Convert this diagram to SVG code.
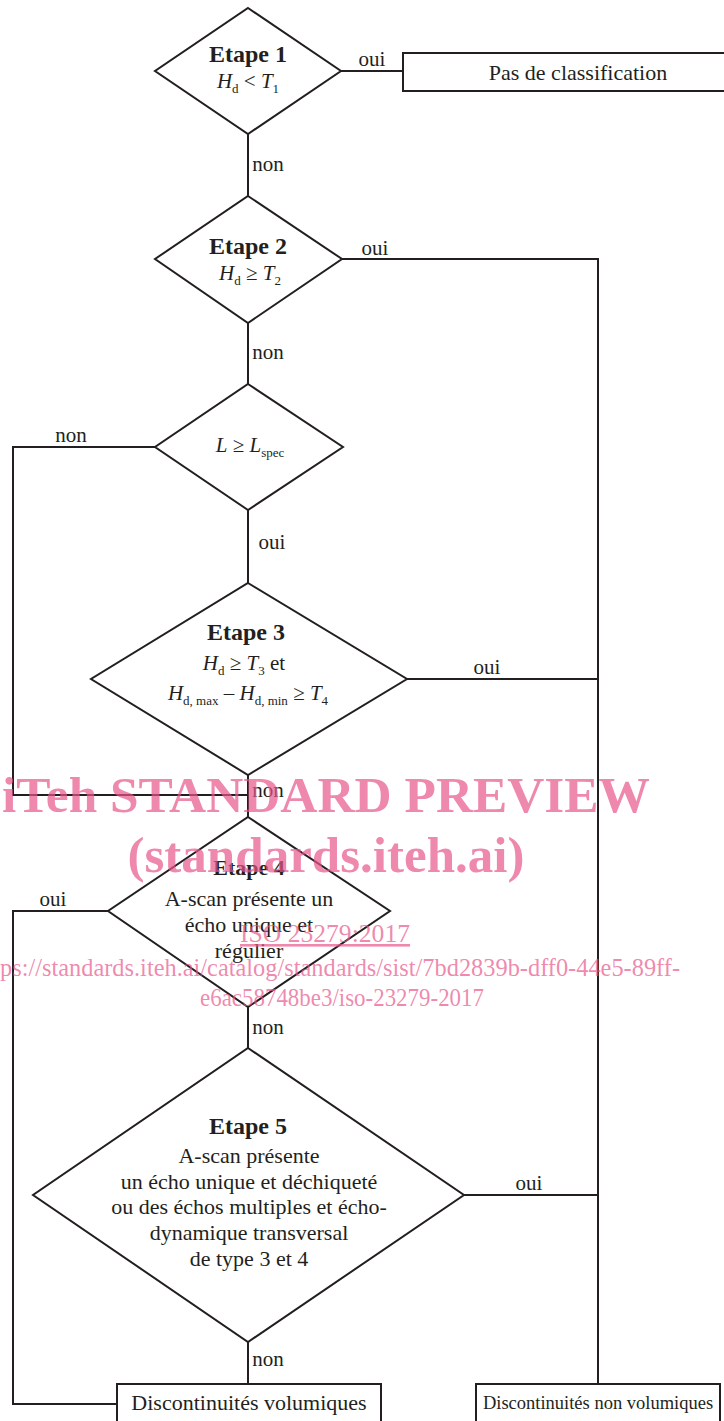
<svg xmlns="http://www.w3.org/2000/svg" width="724" height="1421" viewBox="0 0 724 1421">
<style>
  .shape { fill: #ffffff; stroke: #231f20; stroke-width: 2; }
  .line { fill: none; stroke: #231f20; stroke-width: 2; }
  text { font-family: "Liberation Serif", "DejaVu Serif", serif; fill: #231f20; }
  .t { font-size: 22px; text-anchor: middle; }
  .f { font-size: 21px; text-anchor: middle; }
  .b { font-size: 24px; font-weight: bold; text-anchor: middle; }
  .lbl { font-size: 21px; text-anchor: middle; }
  .i { font-style: italic; }
  .s { font-size: 13px; }
  .wm { font-family: "Liberation Serif", serif; fill: #e8558a; fill-opacity: 0.7; text-anchor: middle; }
</style>
<rect width="724" height="1421" fill="#ffffff"/>

<g id="connectors">
  <polyline class="line" points="341,71 403,71"/>
  <polyline class="line" points="248,134 248,196"/>
  <polyline class="line" points="342,259 598,259 598,1384"/>
  <polyline class="line" points="248,323 248,384"/>
  <polyline class="line" points="155,447 13,447 13,795 248,795"/>
  <polyline class="line" points="248,510 248,583"/>
  <polyline class="line" points="407,679 598,679"/>
  <polyline class="line" points="248,775 248,817"/>
  <polyline class="line" points="108,911 13,911 13,1404 117,1404"/>
  <polyline class="line" points="248,1007 248,1048"/>
  <polyline class="line" points="464,1195 598,1195"/>
  <polyline class="line" points="248,1342 248,1384"/>
  <text class="lbl" x="372" y="66">oui</text>
  <text class="lbl" x="268" y="171">non</text>
  <text class="lbl" x="375" y="255">oui</text>
  <text class="lbl" x="268" y="359">non</text>
  <text class="lbl" x="71" y="442">non</text>
  <text class="lbl" x="272" y="549">oui</text>
  <text class="lbl" x="487" y="674">oui</text>
  <text class="lbl" x="268" y="797">non</text>
  <text class="lbl" x="53" y="906">oui</text>
  <text class="lbl" x="268" y="1034">non</text>
  <text class="lbl" x="529" y="1190">oui</text>
  <text class="lbl" x="268" y="1366">non</text>
</g>

<g id="etape1">
  <polygon class="shape" points="248,8 341,71 248,134 155,71"/>
  <text class="b" x="248" y="62">Etape 1</text>
  <text class="f" x="248" y="88"><tspan class="i">H</tspan><tspan class="s" dy="5">d</tspan><tspan dy="-5"> &lt; </tspan><tspan class="i">T</tspan><tspan class="s" dy="5">1</tspan></text>
</g>

<g id="pas-de-classification">
  <rect class="shape" x="403" y="53" width="330" height="38"/>
  <text class="t" x="578" y="80">Pas de classification</text>
</g>

<g id="etape2">
  <polygon class="shape" points="248,196 342,259 248,323 155,259"/>
  <text class="b" x="248" y="254">Etape 2</text>
  <text class="f" x="250" y="280"><tspan class="i">H</tspan><tspan class="s" dy="5">d</tspan><tspan dy="-5"> ≥ </tspan><tspan class="i">T</tspan><tspan class="s" dy="5">2</tspan></text>
</g>

<g id="longueur">
  <polygon class="shape" points="248,384 343,447 248,510 155,447"/>
  <text class="f" x="250" y="452"><tspan class="i">L</tspan><tspan> ≥ </tspan><tspan class="i">L</tspan><tspan class="s" dy="5">spec</tspan></text>
</g>

<g id="etape3">
  <polygon class="shape" points="248,583 407,679 248,775 91,679"/>
  <text class="b" x="246" y="640">Etape 3</text>
  <text class="f" x="244" y="670"><tspan class="i">H</tspan><tspan class="s" dy="5">d</tspan><tspan dy="-5"> ≥ </tspan><tspan class="i">T</tspan><tspan class="s" dy="5">3</tspan><tspan dy="-5">  et</tspan></text>
  <text class="f" x="248" y="700"><tspan class="i">H</tspan><tspan class="s" dy="5">d, max</tspan><tspan dy="-5"> – </tspan><tspan class="i">H</tspan><tspan class="s" dy="5">d, min</tspan><tspan dy="-5"> ≥ </tspan><tspan class="i">T</tspan><tspan class="s" dy="5">4</tspan></text>
</g>

<g id="etape4">
  <polygon class="shape" points="248,817 390,911 248,1007 108,911"/>
  <text class="b" x="249" y="875" style="font-size:22px">Etape 4</text>
  <text class="t" x="249" y="906">A-scan présente un</text>
  <text class="t" x="249" y="932">écho unique et</text>
  <text class="t" x="249" y="958">régulier</text>
</g>

<g id="etape5">
  <polygon class="shape" points="248,1048 464,1195 248,1342 33,1195"/>
  <text class="b" x="248" y="1134">Etape 5</text>
  <text class="t" x="249" y="1163">A-scan présente</text>
  <text class="t" x="249" y="1189">un écho unique et déchiqueté</text>
  <text class="t" x="249" y="1214">ou des échos multiples et écho-</text>
  <text class="t" x="249" y="1240">dynamique transversal</text>
  <text class="t" x="249" y="1266">de type 3 et 4</text>
</g>

<g id="discontinuites-volumiques">
  <rect class="shape" x="117" y="1384" width="264" height="50"/>
  <text class="t" x="249" y="1410">Discontinuités volumiques</text>
</g>

<g id="discontinuites-non-volumiques">
  <rect class="shape" x="476" y="1384" width="244" height="50"/>
  <text class="t" x="598" y="1409" style="font-size:18.5px">Discontinuités non volumiques</text>
</g>

<g id="watermark">
  <text class="wm" x="326" y="812" style="font-size:50px;font-weight:bold" textLength="648" lengthAdjust="spacingAndGlyphs">iTeh STANDARD PREVIEW</text>
  <text class="wm" x="326" y="872" style="font-size:50px;font-weight:bold" textLength="397" lengthAdjust="spacingAndGlyphs">(standards.iteh.ai)</text>
  <text class="wm" x="325" y="942" style="font-size:26px;text-decoration:underline" textLength="170" lengthAdjust="spacingAndGlyphs">ISO 23279:2017</text>
  <text class="wm" x="340" y="976" style="font-size:26px" textLength="680" lengthAdjust="spacingAndGlyphs">ps://standards.iteh.ai/catalog/standards/sist/7bd2839b-dff0-44e5-89ff-</text>
  <text class="wm" x="342" y="1006" style="font-size:26px" textLength="284" lengthAdjust="spacingAndGlyphs">e6ac58748be3/iso-23279-2017</text>
</g>
</svg>
